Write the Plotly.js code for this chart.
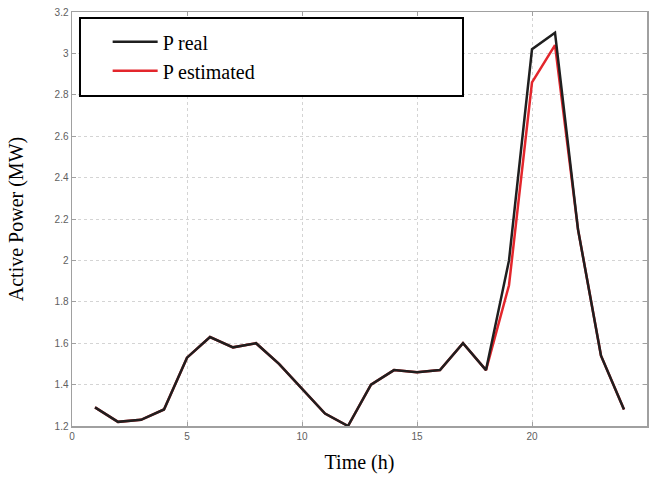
<!DOCTYPE html>
<html>
<head>
<meta charset="utf-8">
<script src="https://cdn.plot.ly/plotly-3.0.1.min.js"></script>
<style>html,body{margin:0;padding:0;background:#fff;}#chart{width:651px;height:477px;}</style>
</head>
<body>
<div id="chart"></div>
<script>
const hours = [1,2,3,4,5,6,7,8,9,10,11,12,13,14,15,16,17,18,19,20,21,22,23,24];
const pReal = [1.29,1.22,1.23,1.28,1.53,1.63,1.58,1.60,1.50,1.38,1.26,1.20,1.40,1.47,1.46,1.47,1.60,1.47,2.00,3.02,3.10,2.15,1.54,1.28];
const pEst  = [1.29,1.22,1.23,1.28,1.53,1.63,1.58,1.60,1.50,1.38,1.26,1.20,1.40,1.47,1.46,1.47,1.60,1.47,1.88,2.86,3.04,2.15,1.54,1.28];
const xTicks = [0,5,10,15,20,25];
const yTicks = [1.2,1.4,1.6,1.8,2,2.2,2.4,2.6,2.8,3,3.2];
const yTickText = ['1.2','1.4','1.6','1.8','2','2.2','2.4','2.6','2.8','3','3.2'];

const traces = [
  {x: hours, y: pEst, type: 'scatter', mode: 'lines', name: 'P estimated',
   line: {color: '#e3262c', width: 2.5}, legendrank: 2},
  {x: hours, y: pReal, type: 'scatter', mode: 'lines', name: 'P real',
   line: {color: '#1f1f1f', width: 2.5}, legendrank: 1}
];

const axisCommon = {
  showline: true, linecolor: '#a0a0a0', linewidth: 1.5, mirror: 'ticks',
  ticks: 'inside', ticklen: 4, tickcolor: '#a0a0a0',
  showgrid: true, gridcolor: '#d4d4d4', griddash: 'dot', gridwidth: 1,
  zeroline: false,
  tickfont: {family: 'Liberation Sans, Arial, sans-serif', size: 10, color: '#606060'}
};

const layout = {
  width: 651, height: 477,
  margin: {l: 72, r: 4, t: 12, b: 51},
  paper_bgcolor: '#fff', plot_bgcolor: '#fff',
  showlegend: true,
  legend: {
    x: 0.062, y: 0.975, xanchor: 'left', yanchor: 'top',
    bgcolor: 'rgba(0,0,0,0)', borderwidth: 0, itemwidth: 45,
    font: {family: 'Liberation Serif, Times New Roman, serif', size: 20, color: '#000'},
    tracegroupgap: 0
  },
  xaxis: Object.assign({}, axisCommon, {
    range: [0, 25], tickvals: xTicks, ticktext: xTicks.map(String),
    title: {text: 'Time (h)', standoff: 14,
            font: {family: 'Liberation Serif, Times New Roman, serif', size: 20, color: '#000'}}
  }),
  yaxis: Object.assign({}, axisCommon, {
    range: [1.2, 3.2], tickvals: yTicks, ticktext: yTickText,
    title: {text: 'Active Power (MW)', standoff: 25,
            font: {family: 'Liberation Serif, Times New Roman, serif', size: 20, color: '#000'}}
  }),
  shapes: [{
    type: 'rect', xref: 'paper', yref: 'paper',
    x0: 0.0139, x1: 0.68, y0: 0.797, y1: 0.9855,
    line: {color: '#000', width: 2}, fillcolor: '#fff', layer: 'above'
  }]
};

Plotly.newPlot('chart', traces, layout, {displayModeBar: false, staticPlot: true});
</script>
</body>
</html>
